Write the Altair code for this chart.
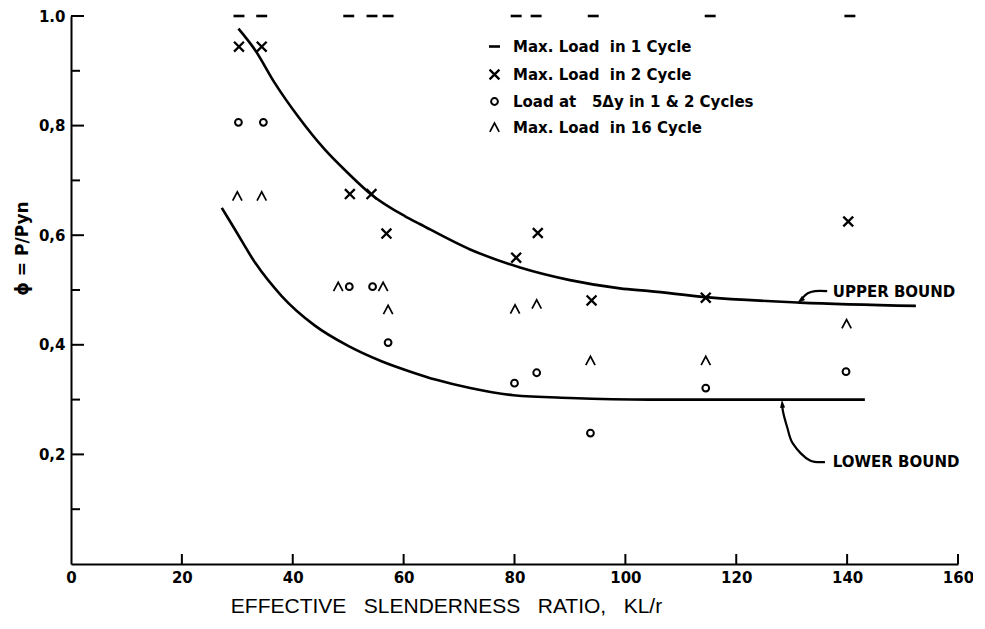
import altair as alt
import pandas as pd

# ---------------- data ----------------
series_names = [
    "Max. Load\u00a0 in 1 Cycle",
    "Max. Load\u00a0 in 2 Cycle",
    "Load at\u00a0\u00a0 5\u0394y in 1 & 2 Cycles",
    "Max. Load\u00a0 in 16 Cycle",
]

dash_x = [30.3, 34.4, 50.1, 54.3, 57.2, 80.3, 83.9, 94.2, 115.3, 140.5]
dash_y = [1.0, 1.0, 1.0, 1.0, 1.0, 1.0, 1.0, 1.0, 1.0, 1.0]

cross_x = [30.3, 34.4, 50.3, 54.2, 56.9, 80.3, 84.2, 93.9, 114.5, 140.2]
cross_y = [0.944, 0.944, 0.675, 0.675, 0.603, 0.559, 0.604, 0.481, 0.486, 0.625]

circle_x = [30.2, 34.7, 50.2, 54.4, 57.2, 80.0, 84.0, 93.7, 114.5, 139.8]
circle_y = [0.806, 0.806, 0.506, 0.506, 0.404, 0.330, 0.349, 0.239, 0.321, 0.351]

caret_x = [30.0, 34.4, 48.2, 56.3, 57.2, 80.1, 84.0, 93.7, 114.5, 139.9]
caret_y = [0.671, 0.671, 0.506, 0.506, 0.464, 0.465, 0.474, 0.371, 0.371, 0.438]

upper_x = [30.2, 33.2, 36.8, 41.0, 45.8, 50.0, 54.2, 60.2, 63.0, 72.0, 81.0, 90.0, 99.0, 104.4, 114.5, 131.5, 152.4]
upper_y = [0.977, 0.938, 0.877, 0.816, 0.756, 0.713, 0.674, 0.635, 0.620, 0.574, 0.541, 0.518, 0.503, 0.498, 0.487, 0.477, 0.471]

lower_x = [27.2, 29.6, 33.2, 38.0, 44.0, 50.0, 56.0, 61.5, 65.9, 72.0, 79.8, 90.0, 104.4, 120.0, 143.2]
lower_y = [0.650, 0.610, 0.550, 0.489, 0.435, 0.398, 0.370, 0.350, 0.336, 0.321, 0.308, 0.303, 0.300, 0.300, 0.300]

x_ticks = [0, 20, 40, 60, 80, 100, 120, 140, 160]
x_tick_marks = [20, 40, 60, 80, 100, 120, 140, 160]
y_major = [0.2, 0.4, 0.6, 0.8, 1.0]
y_minor = [0.1, 0.3, 0.5, 0.7, 0.9]

note_labels = ["UPPER BOUND", "LOWER BOUND"]
note_x = [137.4, 137.4]
note_y = [0.497, 0.186]

# annotation arrow paths (data units)
arrow_up_x = [136.4, 134.2, 132.9, 131.9]
arrow_up_y = [0.498, 0.498, 0.494, 0.485]
arrow_lo_x = [136.0, 133.3, 130.2, 129.2, 128.4, 128.3]
arrow_lo_y = [0.186, 0.189, 0.220, 0.249, 0.280, 0.290]
head_x = [131.6, 128.3]
head_y = [0.481, 0.292]
head_angle = [231, 355]

# ---------------- tables ----------------
pts = pd.concat([
    pd.DataFrame({"x": dash_x, "y": dash_y, "series": series_names[0]}),
    pd.DataFrame({"x": cross_x, "y": cross_y, "series": series_names[1]}),
    pd.DataFrame({"x": circle_x, "y": circle_y, "series": series_names[2]}),
    pd.DataFrame({"x": caret_x, "y": caret_y, "series": series_names[3]}),
], ignore_index=True)

curves = pd.concat([
    pd.DataFrame({"x": upper_x, "y": upper_y, "curve": "upper", "o": range(len(upper_x))}),
    pd.DataFrame({"x": lower_x, "y": lower_y, "curve": "lower", "o": range(len(lower_x))}),
], ignore_index=True)

arrows = pd.concat([
    pd.DataFrame({"x": arrow_up_x, "y": arrow_up_y, "g": "u", "o": range(len(arrow_up_x))}),
    pd.DataFrame({"x": arrow_lo_x, "y": arrow_lo_y, "g": "l", "o": range(len(arrow_lo_x))}),
], ignore_index=True)

heads = pd.DataFrame({"x": head_x, "y": head_y, "a": head_angle})
notes = pd.DataFrame({"x": note_x, "y": note_y, "t": note_labels})
ymaj = pd.DataFrame({"v": y_major})
ymin = pd.DataFrame({"v": y_minor})
xtk = pd.DataFrame({"v": x_tick_marks})

BOLD = "DejaVu Sans"
W, H = 887, 548

xscale = alt.Scale(domain=[0, 160], nice=False, zero=False)
yscale = alt.Scale(domain=[0, 1.0], nice=False, zero=False)

x_axis = alt.Axis(
    values=x_ticks, ticks=False, grid=False,
    domainColor="black", domainWidth=2,
    labelFont=BOLD, labelFontWeight="bold", labelFontSize=15, labelColor="black",
    labelPadding=6, labelFlush=False,
    title="EFFECTIVE\u00a0\u00a0 SLENDERNESS\u00a0\u00a0 RATIO,\u00a0\u00a0 KL/r",
    titleFont="Liberation Sans", titleFontWeight="normal", titleFontSize=21,
    titleColor="black", titleX=375, titleY=48, titleBaseline="alphabetic",
    titleAlign="center",
)
y_axis = alt.Axis(
    values=y_major, ticks=False, grid=False,
    domainColor="black", domainWidth=2,
    labelExpr="datum.value == 1 ? '1.0' : replace(format(datum.value, '.1f'), '.', ',')",
    labelFont=BOLD, labelFontWeight="bold", labelFontSize=15, labelColor="black",
    labelPadding=6, labelFlush=False,
    title="\u03d5 = P/Pyn", titleFont=BOLD, titleFontWeight="bold", titleFontSize=17,
    titleColor="black", titleAngle=270, titleX=-49, titleY=232,
    titleAlign="center", titleBaseline="middle",
)

dash_path = "M-1,0L1,0"
cross_path = "M-0.9,-0.9L0.9,0.9M-0.9,0.9L0.9,-0.9"
circle_path = "M0.62,0A0.62,0.62 0 1,1 -0.62,0A0.62,0.62 0 1,1 0.62,0Z"
caret_path = "M-0.85,0.8L0,-0.8L0.85,0.8"

points = alt.Chart(pts).mark_point(filled=False, color="black", size=120, opacity=1).encode(
    x=alt.X("x:Q", scale=xscale, axis=x_axis),
    y=alt.Y("y:Q", scale=yscale, axis=y_axis),
    shape=alt.Shape("series:N", scale=alt.Scale(domain=series_names,
                    range=[dash_path, cross_path, circle_path, caret_path]),
                    legend=alt.Legend(title=None, orient="none", legendX=416, legendY=23,
                                      labelFont=BOLD, labelFontWeight="bold", labelFontSize=15,
                                      labelColor="black", labelLimit=500, labelOffset=11,
                                      symbolSize=120, symbolStrokeColor="black",
                                      symbolStrokeWidth=1.8, symbolFillColor="transparent",
                                      rowPadding=9, padding=0)),
    strokeWidth=alt.StrokeWidth("series:N", scale=alt.Scale(domain=series_names,
                                range=[2.6, 1.7, 1.6, 1.6]), legend=None),
)

lines = alt.Chart(curves).mark_line(color="black", strokeWidth=2.6, interpolate="monotone").encode(
    x=alt.X("x:Q", scale=xscale, axis=x_axis),
    y=alt.Y("y:Q", scale=yscale, axis=y_axis),
    detail="curve:N",
    order="o:Q",
)

arrow_lines = alt.Chart(arrows).mark_line(color="black", strokeWidth=2.2, interpolate="catmull-rom").encode(
    x=alt.X("x:Q", scale=xscale, axis=x_axis),
    y=alt.Y("y:Q", scale=yscale, axis=y_axis),
    detail="g:N",
    order="o:Q",
)

arrow_heads = alt.Chart(heads).mark_point(
    shape="M0,-1L0.6,0.9L-0.6,0.9Z", filled=True, color="black", size=70, opacity=1
).encode(
    x=alt.X("x:Q", scale=xscale, axis=x_axis),
    y=alt.Y("y:Q", scale=yscale, axis=y_axis),
    angle=alt.Angle("a:Q", scale=None),
)

note_text = alt.Chart(notes).mark_text(
    align="left", baseline="middle", font=BOLD, fontWeight="bold", fontSize=15, color="black"
).encode(
    x=alt.X("x:Q", scale=xscale, axis=x_axis),
    y=alt.Y("y:Q", scale=yscale, axis=y_axis),
    text="t:N",
)

ymaj_rules = alt.Chart(ymaj).mark_rule(color="black", strokeWidth=2).encode(
    y=alt.Y("v:Q", scale=yscale, axis=y_axis), x=alt.value(0), x2=alt.value(13)
)
ymin_rules = alt.Chart(ymin).mark_rule(color="black", strokeWidth=2).encode(
    y=alt.Y("v:Q", scale=yscale, axis=y_axis), x=alt.value(0), x2=alt.value(9)
)
x_rules = alt.Chart(xtk).mark_rule(color="black", strokeWidth=2).encode(
    x=alt.X("v:Q", scale=xscale, axis=x_axis), y=alt.value(H), y2=alt.value(H - 10)
)

chart = alt.layer(
    ymaj_rules, ymin_rules, x_rules, lines, arrow_lines, arrow_heads, note_text, points
).properties(
    width=W, height=H,
    autosize=alt.AutoSizeParams(type="none"),
    padding={"left": 63, "top": 8, "right": 15, "bottom": 54},
    background="white",
).configure_view(stroke=None)

chart.save("out.html", embed_options={"renderer": "svg", "actions": False})
